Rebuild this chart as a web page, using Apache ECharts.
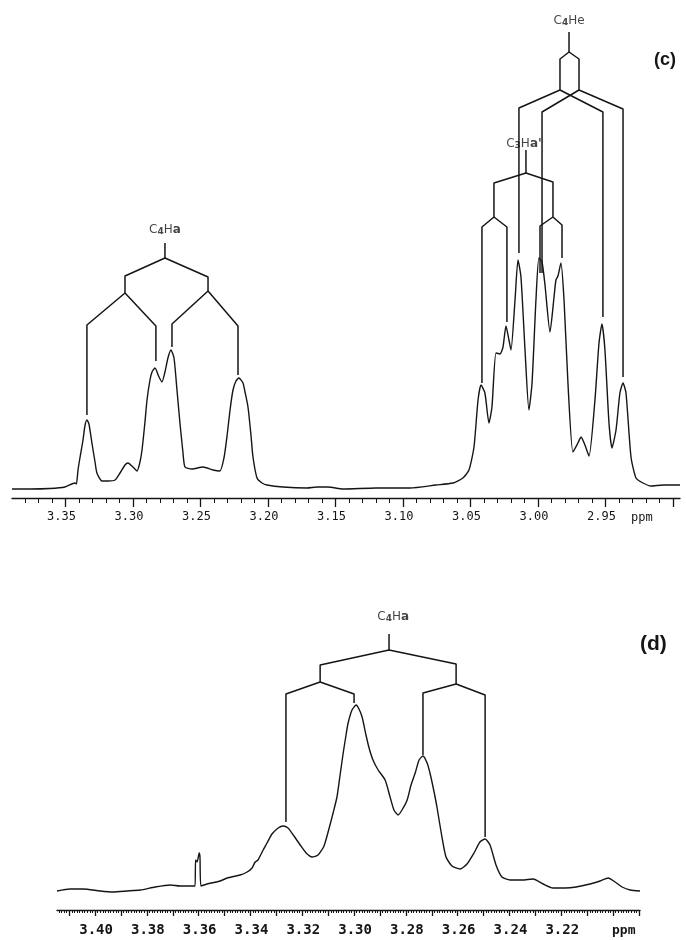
<!DOCTYPE html>
<html>
<head>
<meta charset="utf-8">
<script src="https://cdn.jsdelivr.net/npm/echarts@6/dist/echarts.min.js"></script>
<style>
html, body { margin: 0; background: #fff; }
#main { width: 686px; height: 940px; }
</style>
</head>
<body>
<div id="main"></div>
<script>
// spectrum (c): [ppm, intensity]
const specC = [
  [3.3896, 9], [3.3763, 9], [3.3615, 9.5], [3.3504, 11], [3.3430, 15], [3.3419, 14], [3.3407, 28],
  [3.3393, 40], [3.3370, 58], [3.3356, 72], [3.3341, 78], [3.3326, 74], [3.3304, 55], [3.3281, 36],
  [3.3267, 25], [3.3230, 17], [3.3185, 17], [3.3133, 18], [3.3096, 25], [3.3059, 33], [3.3037, 35],
  [3.3000, 31], [3.2970, 27], [3.2948, 36], [3.2933, 48], [3.2911, 76], [3.2896, 98], [3.2874, 118],
  [3.2859, 126], [3.2837, 130], [3.2807, 121], [3.2785, 116], [3.2763, 126], [3.2741, 140], [3.2719, 148],
  [3.2696, 140], [3.2674, 108], [3.2652, 75], [3.2630, 46], [3.2615, 31], [3.2563, 29], [3.2481, 31],
  [3.2407, 28], [3.2356, 27], [3.2326, 40], [3.2304, 61], [3.2281, 88], [3.2259, 108], [3.2237, 117],
  [3.2215, 120], [3.2185, 115], [3.2170, 106], [3.2148, 91], [3.2126, 63], [3.2111, 41], [3.2081, 20],
  [3.2044, 15], [3.2007, 13], [3.1889, 11], [3.1711, 10], [3.1637, 11], [3.1556, 11], [3.1444, 9],
  [3.1200, 10], [3.0948, 10], [3.0756, 13], [3.0630, 15], [3.0556, 20], [3.0511, 28], [3.0474, 51],
  [3.0444, 98], [3.0422, 113], [3.0393, 105], [3.0363, 75], [3.0341, 91], [3.0311, 145], [3.0281, 144],
  [3.0259, 151], [3.0237, 172], [3.0215, 158], [3.0200, 148], [3.0170, 198], [3.0148, 238], [3.0126, 221],
  [3.0096, 148], [3.0067, 88], [3.0044, 115], [3.0015, 198], [2.9993, 240], [2.9970, 236], [2.9948, 213],
  [2.9911, 166], [2.9881, 201], [2.9867, 218], [2.9852, 222], [2.9830, 235], [2.9807, 198], [2.9778, 115],
  [2.9741, 46], [2.9704, 55], [2.9681, 61], [2.9652, 53], [2.9622, 42], [2.9578, 98], [2.9548, 155],
  [2.9526, 174], [2.9504, 148], [2.9474, 75], [2.9452, 50], [2.9422, 68], [2.9393, 105], [2.9370, 115],
  [2.9348, 105], [2.9311, 41], [2.9274, 20], [2.9222, 15], [2.9163, 12], [2.9074, 13], [2.8948, 13]
];

// spectrum (d): [ppm, intensity]
const specD = [
  [3.4147, 19], [3.4097, 21], [3.4046, 21], [3.3981, 19], [3.3931, 18], [3.3876, 19], [3.3826, 20],
  [3.3768, 23], [3.3710, 25], [3.3672, 24], [3.3622, 24], [3.3614, 24], [3.3612, 50], [3.3606, 48],
  [3.3598, 57], [3.3595, 53], [3.3591, 24], [3.3568, 26], [3.3517, 29], [3.3490, 32], [3.3440, 35],
  [3.3413, 38], [3.3394, 42], [3.3382, 48], [3.3371, 50], [3.3351, 60], [3.3336, 67], [3.3317, 76],
  [3.3293, 82], [3.3274, 84], [3.3255, 82], [3.3232, 74], [3.3208, 65], [3.3185, 57], [3.3162, 53],
  [3.3139, 55], [3.3116, 64], [3.3093, 85], [3.3081, 97], [3.3066, 113], [3.3054, 135], [3.3042, 157],
  [3.3031, 175], [3.3023, 187], [3.3008, 200], [3.2992, 205], [3.2981, 201], [3.2969, 193], [3.2954, 175],
  [3.2942, 162], [3.2927, 150], [3.2907, 140], [3.2880, 130], [3.2861, 113], [3.2846, 100], [3.2830, 95],
  [3.2815, 100], [3.2795, 110], [3.2780, 125], [3.2764, 137], [3.2749, 150], [3.2734, 154], [3.2718, 147],
  [3.2707, 137], [3.2691, 118], [3.2680, 103], [3.2664, 78], [3.2645, 53], [3.2622, 44], [3.2591, 41],
  [3.2564, 46], [3.2537, 57], [3.2514, 68], [3.2494, 71], [3.2475, 65], [3.2452, 45], [3.2429, 33],
  [3.2398, 30], [3.2351, 30], [3.2309, 31], [3.2270, 26], [3.2232, 22], [3.2185, 22], [3.2143, 23],
  [3.2089, 26], [3.2050, 29], [3.2019, 32], [3.1992, 28], [3.1965, 23], [3.1934, 20], [3.1896, 19]
];

// splitting trees, each a list of polylines [ppm, height]
const treeC4HaC = [
  [[3.2763, 255], [3.2763, 240]],
  [[3.3341, 83], [3.3341, 173], [3.3059, 205], [3.3059, 222], [3.2763, 240], [3.2444, 221], [3.2444, 207], [3.2222, 172], [3.2222, 123]],
  [[3.2830, 137], [3.2830, 172], [3.3059, 205]],
  [[3.2711, 151], [3.2711, 174], [3.2444, 207]]
];
const treeC3Ha = [
  [[3.0089, 348], [3.0089, 325]],
  [[3.0415, 115], [3.0415, 271], [3.0326, 281], [3.0326, 315], [3.0089, 325], [2.9889, 316], [2.9889, 281], [2.9822, 273], [2.9822, 240]],
  [[3.0230, 176], [3.0230, 271], [3.0326, 281]],
  [[2.9985, 225], [2.9985, 272], [2.9889, 281]]
];
const treeC4He = [
  [[2.9770, 466], [2.9770, 446]],
  [[3.0141, 245], [3.0141, 390], [2.9837, 408], [2.9837, 439], [2.9770, 446], [2.9696, 439], [2.9696, 408], [2.9370, 389], [2.9370, 121]],
  [[2.9970, 225], [2.9970, 386], [2.9696, 408]],
  [[2.9519, 181], [2.9519, 386], [2.9837, 408]]
];
const treeC4HaD = [
  [[3.2865, 276], [3.2865, 260]],
  [[3.3263, 88], [3.3263, 216], [3.3131, 228], [3.3131, 245], [3.2865, 260], [3.2606, 246], [3.2606, 226], [3.2494, 215], [3.2494, 73]],
  [[3.3000, 207], [3.3000, 216], [3.3131, 228]],
  [[3.2734, 155], [3.2734, 217], [3.2606, 226]]
];

// tree captions: [ppm, height, text]
const captionsC = [
  [3.2763, 268, '{n|C}{s|4}{n|H}{a|a}'],
  [3.0104, 354, '{n|C}{s|3}{n|H}{a|a\'}'],
  [2.9770, 477, '{n|C}{s|4}{n|He}']
];
const captionsD = [
  [3.2849, 293, '{n|C}{s|4}{n|H}{a|a}']
];

// tick labels
const labelsC = [3.35, 3.30, 3.25, 3.20, 3.15, 3.10, 3.05, 3.00, 2.95];
const labelsD = [3.40, 3.38, 3.36, 3.34, 3.32, 3.30, 3.28, 3.26, 3.24, 3.22];

function steps(a, b, s) {
  const out = [];
  const n = Math.round((b - a) / s);
  for (let i = 0; i <= n; i++) out.push(+(a + i * s).toFixed(4));
  return out;
}

const ink = "#151515";
const chart = echarts.init(document.querySelector("#main"));

function axisPair(grid, min, max, major, minor, labels, majorLen, minorLen, font) {
  return [
    {
      gridIndex: grid, type: "value", min: min, max: max, inverse: true, position: "bottom",
      axisLine: { show: true, onZero: false, lineStyle: { color: ink, width: 1.3 } },
      axisTick: { show: true, customValues: major, length: majorLen, lineStyle: { color: ink, width: 1.3 } },
      axisLabel: { show: true, customValues: labels, formatter: (v) => v.toFixed(2), margin: 13,
        color: ink, ...font },
      splitLine: { show: false }
    },
    {
      gridIndex: grid, type: "value", min: min, max: max, inverse: true, position: "bottom",
      axisLine: { show: false, onZero: false },
      axisTick: { show: true, customValues: minor, length: minorLen, lineStyle: { color: ink, width: 1 } },
      axisLabel: { show: false },
      splitLine: { show: false }
    }
  ];
}

function treeSeries(paths, grid) {
  return paths.map((p) => ({
    type: "line", xAxisIndex: grid * 2, yAxisIndex: grid, data: p, symbol: "none",
    lineStyle: { color: ink, width: 1.5 }, silent: true, animation: false
  }));
}

const rich = {
  n: { fontSize: 12, fontFamily: "DejaVu Sans", color: ink },
  s: { fontSize: 9, fontFamily: "DejaVu Sans", color: ink, verticalAlign: "bottom", fontWeight: "bold" },
  a: { fontSize: 12, fontFamily: "DejaVu Sans", color: ink, verticalAlign: "bottom", fontWeight: "bold" }
};

function captionSeries(caps, grid) {
  return {
    type: "scatter", xAxisIndex: grid * 2, yAxisIndex: grid, symbolSize: 1,
    itemStyle: { color: "rgba(0,0,0,0)" }, silent: true, animation: false,
    data: caps.map((c) => ({ value: [c[0], c[1]], name: c[2] })),
    label: { show: true, position: "inside", formatter: (p) => p.name, rich: rich }
  };
}

const option = {
  animation: false,
  backgroundColor: "#fff",
  grid: [
    { left: 12, right: 6, top: 10, height: 488 },
    { left: 57, right: 46, top: 580, height: 330 }
  ],
  xAxis: [
    ...axisPair(0, 2.8948, 3.3896, steps(2.90, 3.35, 0.05), steps(2.90, 3.38, 0.01), labelsC, 9, 5,
      { fontFamily: "DejaVu Sans Mono", fontSize: 12, padding: [0, 8, 0, 0] }),
    ...axisPair(1, 3.1896, 3.4147, steps(3.19, 3.41, 0.01), steps(3.190, 3.414, 0.001), labelsD, 6, 3,
      { fontFamily: "DejaVu Sans Mono", fontSize: 14, fontWeight: "bold", padding: [0, 0, 0, 2] })
  ],
  yAxis: [
    { gridIndex: 0, type: "value", min: 0, max: 488, show: false },
    { gridIndex: 1, type: "value", min: 0, max: 330, show: false }
  ],
  graphic: [
    { type: "text", left: 654, top: 51, style: { text: "(c)", fontSize: 18, fontWeight: "bold", fontFamily: "Liberation Sans", fill: ink } },
    { type: "text", left: 640, top: 634, style: { text: "(d)", fontSize: 21, fontWeight: "bold", fontFamily: "Liberation Sans", fill: ink } },
    { type: "text", left: 631, top: 512, style: { text: "ppm", fontSize: 12, fontFamily: "DejaVu Sans Mono", fill: ink } },
    { type: "text", left: 612, top: 924, style: { text: "ppm", fontSize: 13, fontWeight: "bold", fontFamily: "DejaVu Sans Mono", fill: ink } }
  ],
  series: [
    { type: "line", xAxisIndex: 0, yAxisIndex: 0, data: specC, symbol: "none", smooth: 0.2,
      lineStyle: { color: ink, width: 1.4 }, silent: true },
    { type: "line", xAxisIndex: 2, yAxisIndex: 1, data: specD, symbol: "none", smooth: 0.2,
      lineStyle: { color: ink, width: 1.4 }, silent: true },
    ...treeSeries(treeC4HaC, 0),
    ...treeSeries(treeC3Ha, 0),
    ...treeSeries(treeC4He, 0),
    ...treeSeries(treeC4HaD, 1),
    captionSeries(captionsC, 0),
    captionSeries(captionsD, 1)
  ]
};

chart.setOption(option);
</script>
</body>
</html>
